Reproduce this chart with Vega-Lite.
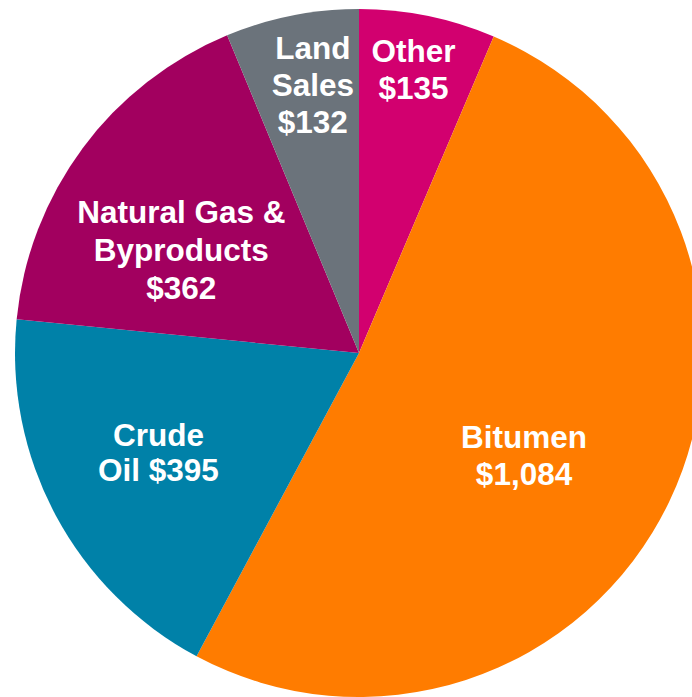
{
  "$schema": "https://vega.github.io/schema/vega-lite/v6.json",
  "autosize": "none",
  "width": 666,
  "height": 688,
  "padding": {"left": 26, "top": 9, "right": 0, "bottom": 0},
  "background": "white",
  "view": {"stroke": null},
  "data": {
    "values": [
      {"idx": 1, "category": "Other", "amount": 135, "label": "Other\n$135"},
      {"idx": 2, "category": "Bitumen", "amount": 1084, "label": "Bitumen\n$1,084"},
      {"idx": 3, "category": "Crude Oil", "amount": 395, "label": "Crude\nOil $395"},
      {"idx": 4, "category": "Natural Gas & Byproducts", "amount": 362, "label": "Natural Gas &\nByproducts\n$362"},
      {"idx": 5, "category": "Land Sales", "amount": 132, "label": "Land\nSales\n$132"}
    ]
  },
  "encoding": {
    "theta": {"field": "amount", "type": "quantitative", "stack": true},
    "order": {"field": "idx", "type": "quantitative"}
  },
  "layer": [
    {
      "mark": {"type": "arc", "outerRadius": 344},
      "encoding": {
        "color": {
          "field": "category",
          "type": "nominal",
          "legend": null,
          "scale": {
            "domain": ["Other", "Bitumen", "Crude Oil", "Natural Gas & Byproducts", "Land Sales"],
            "range": ["#D2006F", "#FF7C00", "#0081A8", "#A2005F", "#6B737B"]
          }
        }
      }
    },
    {
      "mark": {"type": "text", "radius": 288, "dx": -3, "dy": -18, "font": "Liberation Sans", "fontWeight": "bold", "fontSize": 31.5, "lineHeight": 37, "lineBreak": "\n", "color": "white", "align": "center", "baseline": "middle"},
      "encoding": {"text": {"condition": {"test": "datum.category === 'Other'", "field": "label", "type": "nominal"}, "value": ""}}
    },
    {
      "mark": {"type": "text", "radius": 193, "dx": -9, "dy": 3, "font": "Liberation Sans", "fontWeight": "bold", "fontSize": 31.5, "lineHeight": 37, "lineBreak": "\n", "color": "white", "align": "center", "baseline": "middle"},
      "encoding": {"text": {"condition": {"test": "datum.category === 'Bitumen'", "field": "label", "type": "nominal"}, "value": ""}}
    },
    {
      "mark": {"type": "text", "radius": 224, "dx": -3, "dy": -21, "font": "Liberation Sans", "fontWeight": "bold", "fontSize": 31.5, "lineHeight": 35, "lineBreak": "\n", "color": "white", "align": "center", "baseline": "middle"},
      "encoding": {"text": {"condition": {"test": "datum.category === 'Crude Oil'", "field": "label", "type": "nominal"}, "value": ""}}
    },
    {
      "mark": {"type": "text", "radius": 205, "dx": -13, "dy": -17, "font": "Liberation Sans", "fontWeight": "bold", "fontSize": 31.5, "lineHeight": 38, "lineBreak": "\n", "color": "white", "align": "center", "baseline": "middle"},
      "encoding": {"text": {"condition": {"test": "datum.category === 'Natural Gas & Byproducts'", "field": "label", "type": "nominal"}, "value": ""}}
    },
    {
      "mark": {"type": "text", "radius": 272, "dx": 7, "dy": -36, "font": "Liberation Sans", "fontWeight": "bold", "fontSize": 31.5, "lineHeight": 37, "lineBreak": "\n", "color": "white", "align": "center", "baseline": "middle"},
      "encoding": {"text": {"condition": {"test": "datum.category === 'Land Sales'", "field": "label", "type": "nominal"}, "value": ""}}
    }
  ]
}
